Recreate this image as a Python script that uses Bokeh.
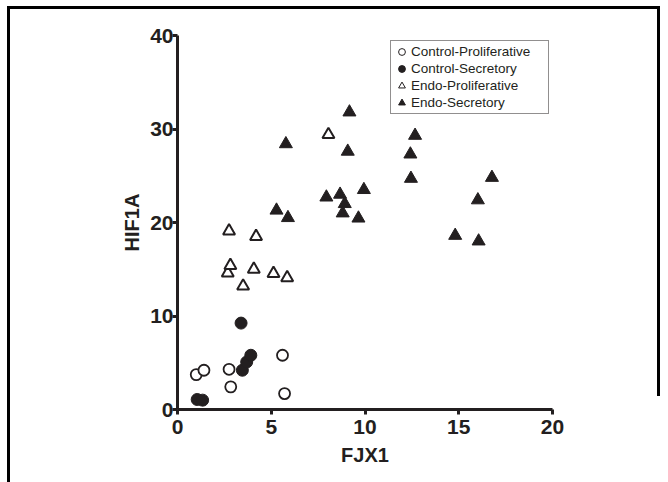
import math
from bokeh.plotting import figure
from bokeh.models import Range1d, FixedTicker, Legend, LegendItem, InlineStyleSheet
from bokeh.embed import file_html
from bokeh.resources import INLINE

# ---- data ----
x_ticks = [0, 5, 10, 15, 20]
y_ticks = [0, 10, 20, 30, 40]

series_names = ["Control-Proliferative", "Control-Secretory",
                "Endo-Proliferative", "Endo-Secretory"]

cp_x = [1.00, 1.41, 2.75, 2.84, 5.60, 5.71]
cp_y = [3.73, 4.20, 4.30, 2.42, 5.80, 1.70]

cs_x = [1.05, 1.34, 3.39, 3.46, 3.69, 3.91]
cs_y = [1.07, 1.00, 9.24, 4.20, 5.08, 5.80]

ep_x = [2.75, 2.68, 2.82, 3.50, 4.19, 4.07, 5.12, 5.85, 8.05]
ep_y = [19.1, 14.6, 15.4, 13.2, 18.5, 15.0, 14.55, 14.1, 29.4]

es_x = [9.17, 12.67, 12.42, 5.78, 9.08, 12.45, 16.77, 9.94, 7.94,
        8.67, 8.92, 8.81, 9.65, 5.28, 5.89, 16.02, 14.81, 16.06]
es_y = [31.8, 29.3, 27.3, 28.4, 27.6, 24.7, 24.8, 23.5, 22.7,
        23.0, 22.0, 21.0, 20.45, 21.3, 20.5, 22.4, 18.6, 18.0]

INK = "#231f20"
W, H = 664, 480

p = figure(width=W, height=H, output_backend="svg", toolbar_location=None,
           x_range=Range1d(0, 20), y_range=Range1d(0, 40),
           min_border_left=177, min_border_right=W - 552,
           min_border_top=35, min_border_bottom=H - 409)
p.outline_line_color = None
p.xgrid.visible = False
p.ygrid.visible = False
p.background_fill_color = "white"
p.border_fill_color = "white"

for ax, ticks in ((p.xaxis[0], x_ticks), (p.yaxis[0], y_ticks)):
    ax.ticker = FixedTicker(ticks=ticks)
    ax.axis_line_width = 3
    ax.axis_line_color = INK
    ax.major_tick_line_width = 3
    ax.major_tick_line_color = INK
    ax.major_tick_out = 5
    ax.major_tick_in = 0
    ax.minor_tick_line_color = None
    ax.major_label_text_font = "Liberation Sans"
    ax.major_label_text_font_style = "bold"
    ax.major_label_text_font_size = "21px"
    ax.major_label_text_color = INK
    ax.axis_label_text_font = "Liberation Sans"
    ax.axis_label_text_font_style = "bold"
    ax.axis_label_text_font_size = "20px"
    ax.axis_label_text_color = INK

p.xaxis.axis_label = "FJX1"
p.yaxis.axis_label = "HIF1A"
p.xaxis.major_label_standoff = 5
p.yaxis.major_label_standoff = -1
p.xaxis.axis_label_standoff = 7
p.yaxis.axis_label_standoff = 4

p.scatter(cp_x, cp_y, marker="circle", size=11, fill_color="white",
          line_color=INK, line_width=1.8)
p.scatter(cs_x, cs_y, marker="circle", size=12, fill_color=INK,
          line_color=INK, line_width=1)
p.scatter(ep_x, ep_y, marker="triangle", size=12, fill_color="white",
          line_color=INK, line_width=2)
p.scatter(es_x, es_y, marker="triangle", size=13, fill_color=INK,
          line_color=INK, line_width=1)

# legend-only renderers (thin outlines like the reference legend; NaN so nothing is plotted)
nan = [float("nan")]
lg = [
    p.scatter(nan, nan, marker="circle", fill_color="white", line_color=INK, line_width=1),
    p.scatter(nan, nan, marker="circle", fill_color=INK, line_color=INK, line_width=1),
    p.scatter(nan, nan, marker="triangle", fill_color="white", line_color=INK, line_width=1),
    p.scatter(nan, nan, marker="triangle", fill_color=INK, line_color=INK, line_width=1),
]
legend = Legend(items=[LegendItem(label=n, renderers=[r], index=0) for n, r in zip(series_names, lg)],
                location=(213, 295), orientation="vertical",
                glyph_width=17, glyph_height=17, spacing=0, padding=2, margin=0,
                label_standoff=1, label_width=135, label_height=17,
                label_text_font="Liberation Sans", label_text_font_size="13.5px",
                label_text_color=INK,
                border_line_color=INK, border_line_width=1.5,
                background_fill_color="white", background_fill_alpha=1)
p.add_layout(legend)

# outer frame of the figure panel (decoration)
p.stylesheets = [InlineStyleSheet(css="""
:host { position: relative; }
:host::before { content: ""; position: absolute; left: 7px; top: 6px;
  width: 653px; height: 480px; border-left: 3px solid #000; border-top: 3px solid #000;
  box-sizing: border-box; pointer-events: none; z-index: 5; }
:host::after { content: ""; position: absolute; left: 657px; top: 6px;
  width: 3px; height: 390px; background: #000; pointer-events: none; z-index: 5; }
""")]

open("out.html", "w").write(file_html(p, INLINE))
